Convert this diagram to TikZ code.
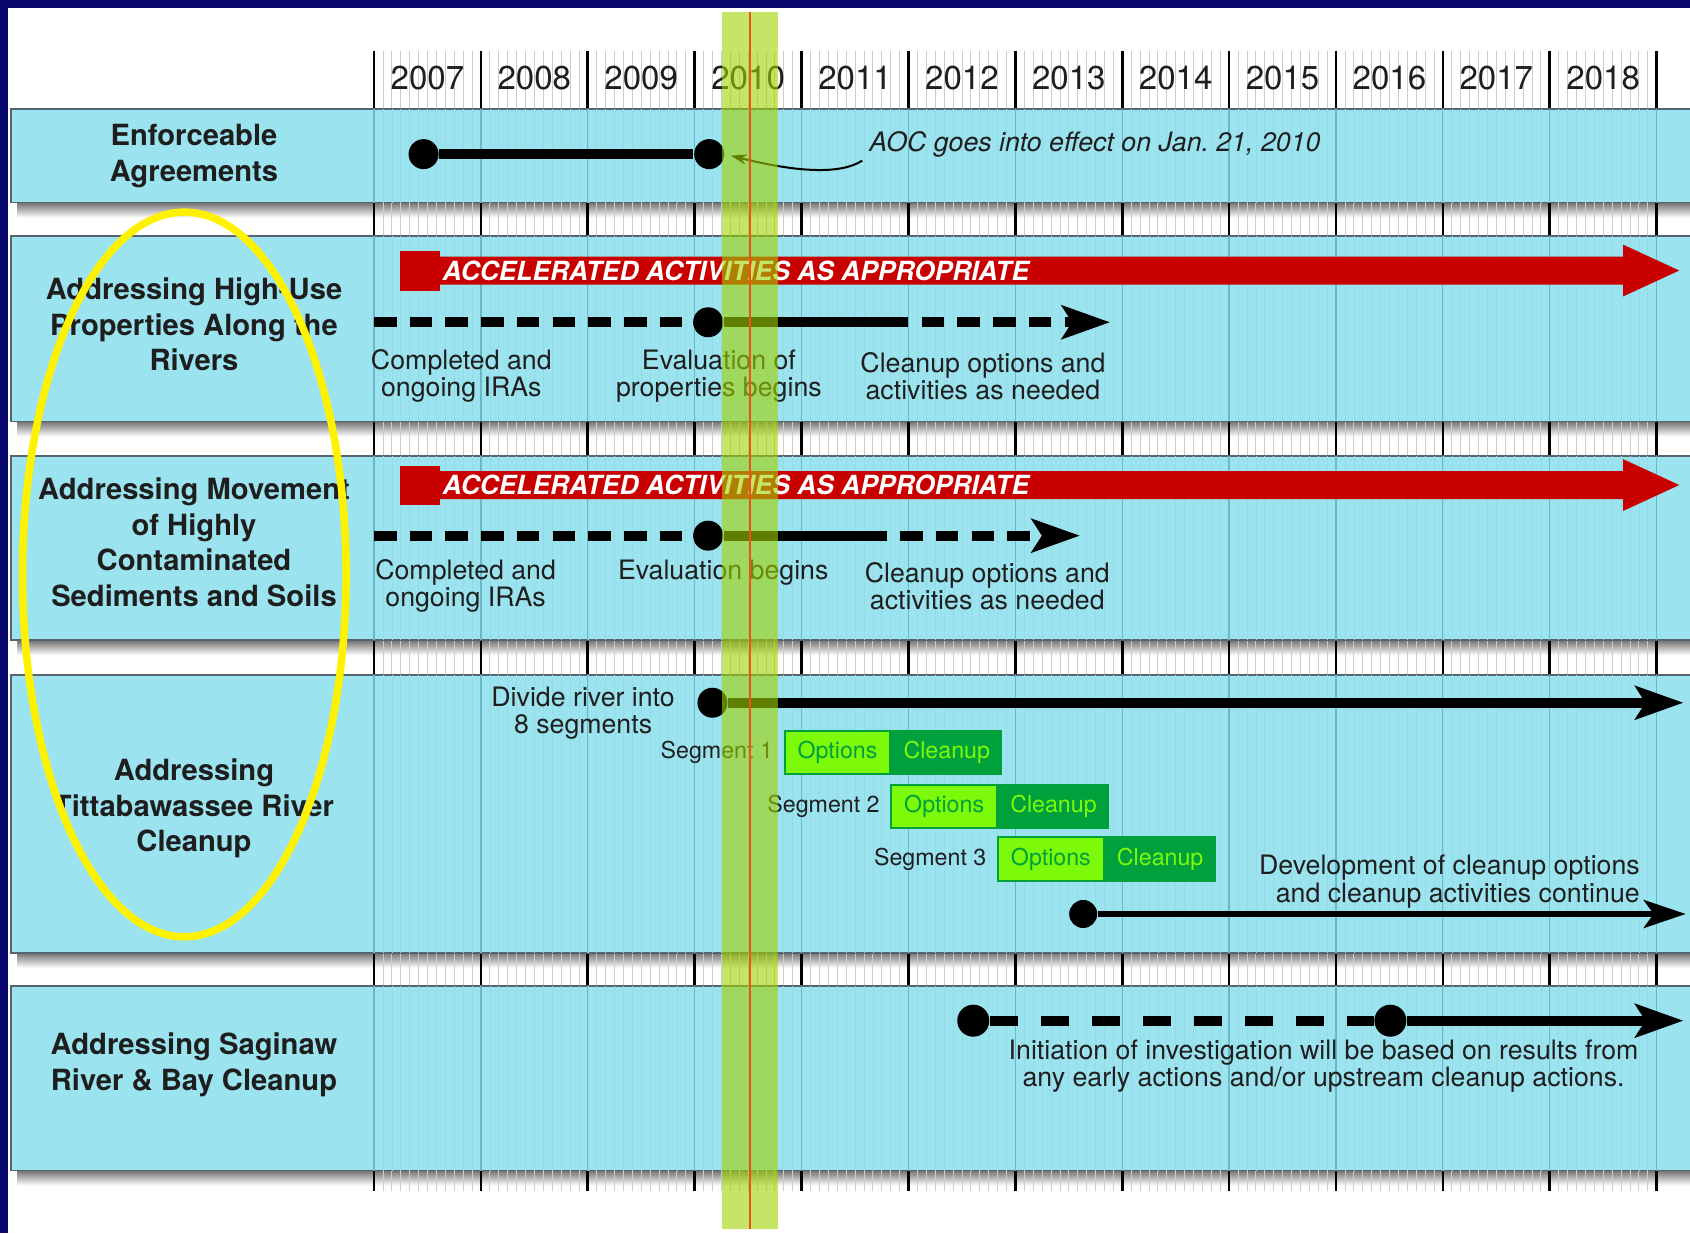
\documentclass[tikz,border=0pt]{standalone}
\usepackage{fontspec}
\setmainfont{TeX Gyre Heros}
\usetikzlibrary{arrows.meta,positioning}

\definecolor{bandcyan}{RGB}{155,227,238}
\definecolor{bandedge}{RGB}{85,100,110}
\definecolor{yearline}{RGB}{105,185,200}
\definecolor{navyframe}{RGB}{8,8,110}
\definecolor{barred}{RGB}{200,0,0}
\definecolor{optlime}{RGB}{125,250,10}
\definecolor{cleangreen}{RGB}{0,160,60}
\definecolor{hilite}{RGB}{160,210,0}
\definecolor{redmark}{RGB}{240,80,30}
\definecolor{inkgray}{RGB}{30,30,30}

\begin{document}
\begin{tikzpicture}[x=0.010778cm, y=-0.010778cm,
    band/.style={fill=bandcyan, draw=bandedge, line width=0.016cm},
    rowlabel/.style={font=\bfseries\fontsize{8.3}{10.1}\selectfont, align=center, text=inkgray, inner sep=0},
    yearlabel/.style={font=\fontsize{9.4}{11}\selectfont, text=inkgray, inner sep=0},
    note/.style={font=\fontsize{7.6}{7.7}\selectfont, align=center, text=inkgray, inner sep=0},
    seglabel/.style={font=\fontsize{6.6}{8}\selectfont, text=inkgray, inner sep=0},
    optbox/.style={font=\fontsize{6.6}{8}\selectfont, fill=optlime, draw=cleangreen, line width=0.02cm,
        text=cleangreen, minimum width=1.056cm, minimum height=0.431cm, inner sep=0},
    cleanbox/.style={font=\fontsize{6.6}{8}\selectfont, fill=cleangreen, draw=cleangreen, line width=0.02cm,
        text=optlime, minimum width=1.089cm, minimum height=0.431cm, inner sep=0},
    bartext/.style={font=\bfseries\itshape\fontsize{7.5}{9}\selectfont, text=white, inner sep=0},
    dot/.style={circle, fill=black, inner sep=0, minimum size=0.30cm},
    timeline/.style={draw=black, line width=0.097cm},
    thinline/.style={draw=black, line width=0.054cm},
    dashpat/.style={dash pattern=on 0.225cm off 0.132cm},
    bigtip/.style={-{Stealth[length=0.48cm, width=0.33cm, inset=0.1cm]}},
    smalltip/.style={-{Stealth[length=0.42cm, width=0.28cm, inset=0.1cm]}}]

    \useasboundingbox (0,0) rectangle (1568,1144);
    \fill[navyframe] (0,0) rectangle (1568,1144);
    \fill[white] (7,7) rectangle (1568,1144);

    % shadows, hatching and year ticks
    \foreach \yb in {188,391,594,884,1086}
        \shade[top color=black!55, bottom color=white] (16,\yb) rectangle (1568,\yb+14);
    \foreach \ya/\yb in {47/101, 188/219, 391/423, 594/626, 884/915, 1086/1105} {
        \foreach \k in {0,...,143}
            \draw[gray!40, line width=0.2pt] (347+\k*8.264,\ya) -- (347+\k*8.264,\yb);
        \foreach \i in {0,...,12}
            \draw[black, line width=0.027cm] (347+\i*99.17,\ya) -- (347+\i*99.17,\yb);
    }
    \foreach \yr [count=\i from 0] in {2007,...,2018}
        \node[yearlabel] (y\yr) at (396.6+\i*99.17,72) {\yr};

    % rows
    \foreach \ya/\yb in {101/188, 219/391, 423/594, 626/884, 915/1086} {
        \draw[band] (10,\ya) rectangle (1580,\yb);
        \foreach \k in {0,...,143}
            \draw[bandcyan!96!black, line width=0.15pt] (347+\k*8.264,\ya) -- (347+\k*8.264,\yb);
        \foreach \i in {0,...,12}
            \draw[yearline, line width=0.35pt] (347+\i*99.17,\ya) -- (347+\i*99.17,\yb);
    }

    \node[rowlabel] (lab1) at (180,145) {Enforceable\\Agreements};
    \node[rowlabel] (lab2) at (180,301) {Addressing High-Use\\Properties Along the\\Rivers};
    \node[rowlabel] (lab3) at (180,503) {Addressing Movement\\of Highly\\Contaminated\\Sediments and Soils};
    \node[rowlabel] (lab4) at (180,750) {Addressing\\Tittabawassee River\\Cleanup};
    \node[rowlabel] (lab5) at (180,988) {Addressing Saginaw\\River \& Bay Cleanup};

    % enforceable agreements
    \node[dot] (d1a) at (393,143) {};
    \node[dot] (d1b) at (658,143) {};
    \draw[timeline] (d1a) -- (d1b);
    \node[note, font=\itshape\fontsize{7.6}{9}\selectfont, anchor=west] (aoc) at (806,134) {AOC goes into effect on Jan.~21, 2010};
    \coordinate (aoctail) at (800,149);
    \draw[black, line width=0.02cm, -{Stealth[length=0.16cm, width=0.1cm]}, shorten >=0.06cm]
        (aoctail) .. controls (780,162) and (740,160) .. (d1b.east);

    % high-use properties
    \fill[barred] (371,233) rectangle (408,270);
    \fill[barred] (408,238) -- (1506,238) -- (1506,227) -- (1558,251) -- (1506,275) -- (1506,264) -- (408,264) -- cycle;
    \node[bartext, anchor=west] (bar2) at (410,251) {ACCELERATED ACTIVITIES AS APPROPRIATE};
    \coordinate (s2) at (347,299);
    \node[dot] (d2) at (657,299) {};
    \coordinate (m2) at (822,299);
    \coordinate (t2) at (1030,299);
    \draw[timeline, dashpat] (s2) -- (d2);
    \draw[timeline] (d2) -- (m2);
    \draw[timeline, dashpat, bigtip] (m2) -- (t2);
    \node[note] (n2a) at (428,349) {Completed and\\ongoing IRAs};
    \node[note] (n2b) at (667,349) {Evaluation of\\properties begins};
    \node[note] (n2c) at (912,349) {Cleanup options and\\activities as needed};

    % movement of sediments
    \fill[barred] (371,432) rectangle (408,469);
    \fill[barred] (408,437) -- (1506,437) -- (1506,426) -- (1558,450) -- (1506,474) -- (1506,463) -- (408,463) -- cycle;
    \node[bartext, anchor=west] (bar3) at (410,450) {ACCELERATED ACTIVITIES AS APPROPRIATE};
    \coordinate (s3) at (347,497);
    \node[dot] (d3) at (657,497) {};
    \coordinate (m3) at (802,497);
    \coordinate (t3) at (1002,497);
    \draw[timeline, dashpat] (s3) -- (d3);
    \draw[timeline] (d3) -- (m3);
    \draw[timeline, dashpat, bigtip] (m3) -- (t3);
    \node[note] (n3a) at (432,544) {Completed and\\ongoing IRAs};
    \node[note] (n3b) at (671,531) {Evaluation begins};
    \node[note] (n3c) at (916,544) {Cleanup options and\\activities as needed};

    % tittabawassee river
    \node[note] (n4a) at (541,662) {Divide river into\\8 segments};
    \node[dot] (d4) at (661,652) {};
    \coordinate (t4) at (1562,652);
    \draw[timeline, bigtip] (d4) -- (t4);
    \foreach \s/\sx/\sy in {1/777/698, 2/876/748, 3/975/797} {
        \node[optbox] (opt\s) at (\sx,\sy) {Options};
        \node[cleanbox, right=0pt of opt\s] (cln\s) {Cleanup};
        \node[seglabel, left=0.1cm of opt\s] (seg\s) {Segment \s};
    }
    \node[note, align=right, anchor=east] (n4b) at (1522,818) {Development of cleanup options\\and cleanup activities continue};
    \node[dot, minimum size=0.28cm] (d4b) at (1005,848) {};
    \coordinate (t4b) at (1564,848);
    \draw[thinline, smalltip] (d4b) -- (t4b);

    % saginaw river and bay
    \node[dot, minimum size=0.32cm] (d5a) at (903,947) {};
    \node[dot, minimum size=0.32cm] (d5b) at (1290,947) {};
    \coordinate (t5) at (1562,947);
    \draw[timeline, dash pattern=on 0.28cm off 0.23cm] (d5a) -- (d5b);
    \draw[timeline, bigtip] (d5b) -- (t5);
    \node[note] (n5) at (1228,989) {Initiation of investigation will be based on results from\\any early actions and/or upstream cleanup actions.};

    % current date marker and highlight
    \fill[hilite, opacity=0.6] (670,11) rectangle (722,1140);
    \draw[redmark, line width=0.016cm] (696,11) -- (696,1140);
    \draw[yellow, line width=0.075cm] (171,533) ellipse [x radius=1.617cm, y radius=3.621cm];
\end{tikzpicture}
\end{document}
